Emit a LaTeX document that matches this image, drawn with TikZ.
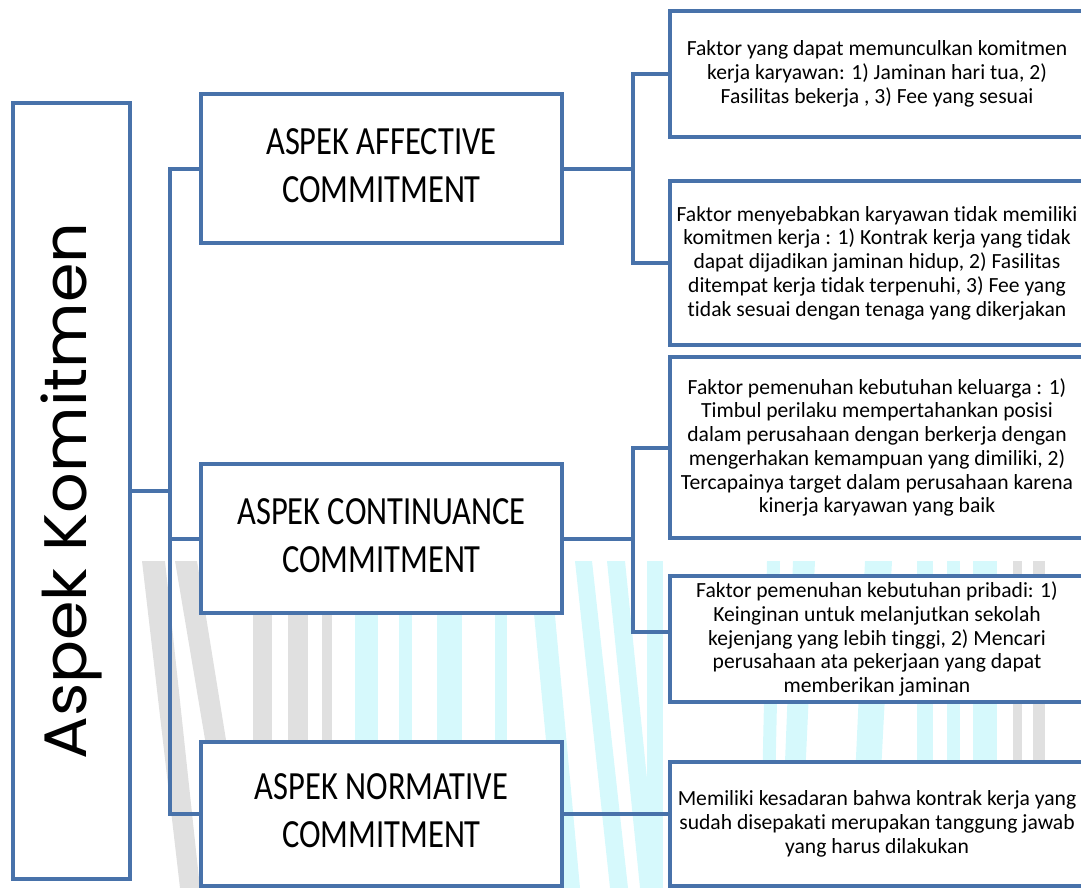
\documentclass[tikz,border=0pt]{standalone}
\usepackage{fontspec}
\usepackage{graphicx}
\setmainfont{Carlito}[Ligatures=NoCommon]
\newfontfamily\gothic{Poppins}
\usetikzlibrary{positioning}
\definecolor{smblue}{RGB}{72,114,170}
\definecolor{wmgray}{RGB}{224,224,224}
\definecolor{wmcyan}{RGB}{214,249,252}
\newcommand{\tall}[1]{\scalebox{1}[1.23]{\begin{tabular}{@{}c@{}}#1\end{tabular}}}
\tikzset{
	box/.style={draw=smblue, line width=4pt, fill=white, inner sep=0pt},
	aspek/.style={box, minimum width=361pt, minimum height=149pt, font=\fontsize{32.5}{39}\selectfont},
	faktor/.style={box, minimum width=414pt, align=center, font=\fontsize{21.6}{23.7}\selectfont},
	link/.style={draw=smblue, line width=4pt}
}

\begin{document}
\begin{tikzpicture}[x=1pt, y=-1pt]
			\useasboundingbox (0,0) rectangle (1081,888);
			\foreach \a/\b/\c/\d in {142/165/180/200, 175/197/230/250, 253/272/253/272, 288/308/288/308, 322/332/322/332, 1013/1022/1013/1022, 1033/1045/1033/1045}
				\fill[wmgray] (\a,561) -- (\b,561) -- (\d,888) -- (\c,888) -- cycle;
			\foreach \a/\b/\c/\d in {355/378/355/378, 399/412/399/412, 437/462/437/462, 495/507/495/507, 529/550/560/580, 575/592/610/628, 607/625/640/658, 647/663/647/663, 767/780/760/773, 793/815/780/800, 865/892/850/875, 917/933/917/933, 947/960/947/960, 973/997/973/997}
				\fill[wmcyan] (\a,561) -- (\b,561) -- (\d,888) -- (\c,888) -- cycle;
			\node[box, rotate=90, minimum width=776pt, minimum height=117pt, font=\gothic\fontsize{60}{64}\selectfont] (kom) at (71.5,491) {\scalebox{1.06}[1]{Aspek Komitmen}};
			\node[aspek] (aff) at (381.5,168.5) {\tall{ASPEK AFFECTIVE\\COMMITMENT}};
			\node[aspek] (con) at (381.5,538.5) {\tall{ASPEK CONTINUANCE\\COMMITMENT}};
			\node[aspek, minimum height=144pt] (nor) at (381.5,814) {\tall{ASPEK NORMATIVE\\COMMITMENT}};
			\node[faktor, minimum height=126pt] (r1) at (877,74) {Faktor yang dapat memunculkan komitmen\\kerja karyawan: 1) Jaminan hari tua, 2)\\Fasilitas bekerja , 3) Fee yang sesuai};
			\node[faktor, minimum height=164pt] (r2) at (877,263) {Faktor menyebabkan karyawan tidak memiliki\\komitmen kerja : 1) Kontrak kerja yang tidak\\dapat dijadikan jaminan hidup, 2) Fasilitas\\ditempat kerja tidak terpenuhi, 3) Fee yang\\tidak sesuai dengan tenaga yang dikerjakan};
			\node[faktor, minimum height=181pt] (r3) at (877,447.5) {Faktor pemenuhan kebutuhan keluarga : 1)\\Timbul perilaku mempertahankan posisi\\dalam perusahaan dengan berkerja dengan\\mengerhakan kemampuan yang dimiliki, 2)\\Tercapainya target dalam perusahaan karena\\kinerja karyawan yang baik};
			\node[faktor, minimum height=126pt] (r4) at (877,639) {Faktor pemenuhan kebutuhan pribadi: 1)\\Keinginan untuk melanjutkan sekolah\\kejenjang yang lebih tinggi, 2) Mencari\\perusahaan ata pekerjaan yang dapat\\memberikan jaminan};
			\node[faktor, minimum height=124pt] (r5) at (877,824) {Memiliki kesadaran bahwa kontrak kerja yang\\sudah disepakati merupakan tanggung jawab\\yang harus dilakukan};
			\draw[link] (kom.south) -- ++(38,0) |- (aff.west);
			\draw[link] (kom.south) -- ++(38,0) |- (con.west);
			\draw[link] (kom.south) -- ++(38,0) |- (nor.west);
			\draw[link] (aff.east) -- ++(69,0) |- (r1.west);
			\draw[link] (aff.east) -- ++(69,0) |- (r2.west);
			\draw[link] (con.east) -- ++(69,0) |- (r3.west);
			\draw[link] (con.east) -- ++(69,0) |- ([yshift=7pt]r4.west);
			\draw[link] (nor.east) -- (nor.east -| r5.west);
\end{tikzpicture}
\end{document}
